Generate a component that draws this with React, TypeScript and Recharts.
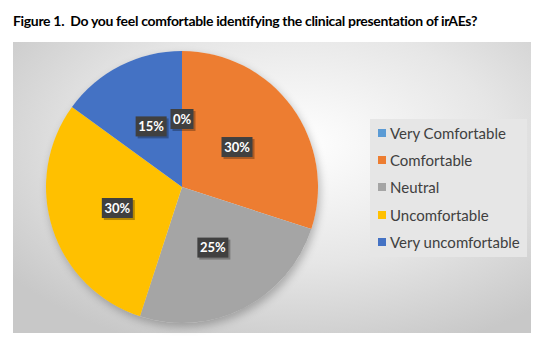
import { PieChart, Pie, Cell, Legend } from 'recharts'

const categories = ['Very Comfortable', 'Comfortable', 'Neutral', 'Uncomfortable', 'Very uncomfortable']
const shares = [0, 30, 25, 30, 15]
const colors = ['#5B9BD5', '#ED7D31', '#A5A5A5', '#FFC000', '#4472C4']

const data = categories.map((name, i) => ({ name, value: shares[i] }))

const FONT = 'Lato, "Liberation Sans", sans-serif'
const RAD = Math.PI / 180

function SliceLabel(props: any) {
  const { cx, cy, midAngle, outerRadius, value } = props
  const r = outerRadius * 0.5
  const x = cx + r * Math.cos(-midAngle * RAD)
  const y = cy + r * Math.sin(-midAngle * RAD)
  const text = `${value}%`
  const w = text.length > 2 ? 31 : 23
  const h = 20
  return (
    <g>
      <rect x={x - w / 2 + 2} y={y - h / 2 + 2} width={w} height={h} fill="rgba(0,0,0,0.28)" />
      <rect x={x - w / 2} y={y - h / 2} width={w} height={h} fill="#404040" />
      <text
        x={x}
        y={y + 4.5}
        textAnchor="middle"
        fill="#ffffff"
        fontFamily={FONT}
        fontWeight={700}
        fontSize={13}
      >
        {text}
      </text>
    </g>
  )
}

// legend drawn from our own arrays so the order stays as in the source
function LegendBox() {
  return (
    <div
      style={{
        background: '#e6e6e6',
        width: 157,
        height: 138,
        boxSizing: 'border-box',
        paddingTop: 0,
        fontFamily: FONT,
      }}
    >
      {categories.map((name, i) => (
        <div
          key={name}
          style={{ display: 'flex', alignItems: 'center', height: 27.3, paddingLeft: 8 }}
        >
          <span style={{ width: 8, height: 8, background: colors[i], marginRight: 4 }} />
          <span style={{ fontSize: 15, color: '#404040', whiteSpace: 'nowrap' }}>{name}</span>
        </div>
      ))}
    </div>
  )
}

export default function App() {
  return (
    <div style={{ position: 'absolute', left: 0, top: 0, width: 547, height: 361, background: '#fff' }}>
      <div
        style={{
          position: 'absolute',
          left: 13,
          top: 12,
          fontFamily: FONT,
          fontWeight: 700,
          fontSize: 14,
          letterSpacing: -0.33,
          color: '#000',
          whiteSpace: 'nowrap',
        }}
      >
        Figure 1.&nbsp; Do you feel comfortable identifying the clinical presentation of irAEs?
      </div>
      <div
        style={{
          position: 'absolute',
          left: 13,
          top: 42,
          width: 518,
          height: 291,
          background: 'radial-gradient(ellipse 70% 75% at 55% 35%, #ffffff 0%, #e6e6e6 55%, #c8c8c8 100%)',
        }}
      >
        <div
          style={{
            position: 'absolute',
            left: 169 - 136,
            top: 145 - 136,
            width: 272,
            height: 272,
            borderRadius: '50%',
            boxShadow: '2px 4px 8px rgba(0,0,0,0.25)',
          }}
        />
        <div style={{ position: 'absolute', left: 0, top: 0 }}>
          <PieChart width={518} height={291} margin={{ top: 0, right: 0, bottom: 0, left: 0 }}>
            <Pie
              data={data}
              dataKey="value"
              nameKey="name"
              cx={169}
              cy={145}
              outerRadius={136}
              startAngle={90}
              endAngle={-270}
              stroke="none"
              label={SliceLabel}
              labelLine={false}
              isAnimationActive={false}
            >
              {data.map((d, i) => (
                <Cell key={d.name} fill={colors[i]} />
              ))}
            </Pie>
            <Legend
              layout="vertical"
              align="right"
              verticalAlign="top"
              content={LegendBox}
              wrapperStyle={{ left: 357, top: 77, width: 157 }}
            />
          </PieChart>
        </div>
      </div>
    </div>
  )
}
